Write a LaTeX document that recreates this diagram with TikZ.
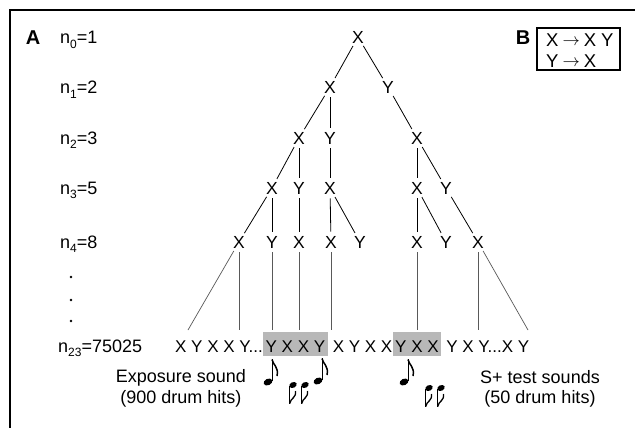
\documentclass[tikz,border=0pt]{standalone}
\usepackage{fontspec}
\setmainfont{Liberation Sans}
\definecolor{hlgray}{RGB}{184,184,184}
\newcommand\nsub[1]{\raisebox{-4.5pt}{\fontsize{12}{12}\selectfont #1}}
\newcommand\rarr{\raisebox{0.5pt}{$\rightarrow$}}
\begin{document}
\begin{tikzpicture}[x=1pt,y=-1pt,
  lt/.style={circle, inner sep=1.3pt, font=\fontsize{17.5}{20}\selectfont},
  ln/.style={line width=0.8pt},
  ln2/.style={line width=0.7pt, black!65},
  lab/.style={anchor=base west, inner sep=0pt, font=\fontsize{18}{21}\selectfont},
  txt/.style={anchor=base, inner sep=0pt, font=\fontsize{18}{21}\selectfont},
  rul/.style={anchor=base west, inner sep=0pt, font=\fontsize{18.5}{21}\selectfont},
  seq/.style={anchor=base west, inner sep=0pt, text height=20pt, text depth=4pt, font=\fontsize{17}{20}\selectfont},
  hl/.style={seq, fill=hlgray, inner xsep=2.5pt},
  upnote/.pic={
    \fill[rotate=25] (0,0) ellipse (4.6 and 3.2);
    \draw[line width=1pt] (4,-1) -- (4,-23);
    \draw[line width=1.5pt] (4,-22.5) .. controls (5,-17) and (11,-15) .. (9,-6);
  },
  downnote/.pic={
    \fill[rotate=25] (0,0) ellipse (3.9 and 2.8);
    \draw[line width=1pt] (-3.3,0.5) -- (-3.3,19);
    \draw[line width=1.3pt] (-3.3,18.5) .. controls (-2.5,13) and (3.5,13) .. (2.5,6);
  }
]
\useasboundingbox (0,0) rectangle (635,428);
\fill[white] (0,0) rectangle (635,428);
% frame
\draw[line width=2.2pt] (10,428) -- (10,10) -- (635,10);

% panel letters
\node[anchor=base, inner sep=0pt, font=\bfseries\fontsize{20}{24}\selectfont] (A) at (33,45) {A};
\node[anchor=base, inner sep=0pt, font=\bfseries\fontsize{20}{24}\selectfont] (B) at (523,45) {B};

% rules box
\draw[line width=2pt] (537,28) rectangle (620,70);
\node[rul] (rule1) at (546,46.5) {X\hspace{4pt}\rarr\hspace{4pt}X\hspace{5pt}Y};
\node[rul] (rule2) at (546,67) {Y\hspace{4pt}\rarr\hspace{4pt}X};

% row labels
\node[lab] (l0) at (60,44) {n\nsub{0}=1};
\node[lab] (l1) at (60,94) {n\nsub{1}=2};
\node[lab] (l2) at (60,144) {n\nsub{2}=3};
\node[lab] (l3) at (60,194) {n\nsub{3}=5};
\node[lab] (l4) at (60,248) {n\nsub{4}=8};
\node[lab] (l23) at (58,352) {n\nsub{23}=75025};
\fill (71,277) circle (1.3);
\fill (71,300) circle (1.3);
\fill (71,321) circle (1.3);

% tree nodes
\node[lt] (r0) at (358,37) {X};
\node[lt] (a1) at (330,87) {X};
\node[lt] (b1) at (388,87) {Y};
\node[lt] (a2) at (299,138) {X};
\node[lt] (b2) at (330,138) {Y};
\node[lt] (c2) at (417,138) {X};
\node[lt] (a3) at (272,188) {X};
\node[lt] (b3) at (299,188) {Y};
\node[lt] (c3) at (330,188) {X};
\node[lt] (d3) at (417,188) {X};
\node[lt] (e3) at (446,188) {Y};
\node[lt] (a4) at (239,242) {X};
\node[lt] (b4) at (272,242) {Y};
\node[lt] (c4) at (299,242) {X};
\node[lt] (d4) at (331,242) {X};
\node[lt] (e4) at (360,242) {Y};
\node[lt] (f4) at (417,242) {X};
\node[lt] (g4) at (446,242) {Y};
\node[lt] (h4) at (478,242) {X};

\draw[ln] (r0) -- (a1);
\draw[ln] (r0) -- (b1);
\draw[ln] (a1) -- (a2);
\draw[ln] (a1) -- (b2);
\draw[ln] (b1) -- (c2);
\draw[ln] (a2) -- (a3);
\draw[ln] (a2) -- (b3);
\draw[ln] (b2) -- (c3);
\draw[ln] (c2) -- (d3);
\draw[ln] (c2) -- (e3);
\draw[ln] (a3) -- (a4);
\draw[ln] (a3) -- (b4);
\draw[ln] (b3) -- (c4);
\draw[ln] (c3) -- (d4);
\draw[ln] (c3) -- (e4);
\draw[ln] (d3) -- (f4);
\draw[ln] (d3) -- (g4);
\draw[ln] (e3) -- (h4);

% ends above the sequence
\coordinate (t1) at (188,330);
\coordinate (t2) at (239,330);
\coordinate (t3) at (272,330);
\coordinate (t4) at (299,330);
\coordinate (t5) at (331,330);
\coordinate (t6) at (417,330);
\coordinate (t7) at (478,330);
\coordinate (t8) at (528,330);
\draw[ln2] (a4) -- (t1);
\draw[ln2] (a4) -- (t2);
\draw[ln2] (b4) -- (t3);
\draw[ln2] (c4) -- (t4);
\draw[ln2] (d4) -- (t5);
\draw[ln2] (f4) -- (t6);
\draw[ln2] (h4) -- (t7);
\draw[ln2] (h4) -- (t8);

% sequence
\node[seq] (s1) at (175,352) {X Y X X Y...};
\node[hl, anchor=base west] (s2) at (s1.base east) {Y X X Y};
\node[seq] (s3) at (s2.base east) {\ X Y X X\ };
\node[hl, anchor=base west] (s4) at (s3.base east) {Y X X};
\node[seq] (s5) at (s4.base east) {\ Y X Y...X Y};

% captions
\node[txt] (exp1) at (181,382) {Exposure sound};
\node[txt] (exp2) at (181,403) {(900 drum hits)};
\node[txt] (sp1) at (540,383) {S+ test sounds};
\node[txt] (sp2) at (540,403) {(50 drum hits)};

% notes
\pic at (268,382) {upnote};
\pic at (293,385) {downnote};
\pic at (305,385) {downnote};
\pic at (318,381) {upnote};
\pic at (404,382) {upnote};
\pic at (429,388) {downnote};
\pic at (441,388) {downnote};
\end{tikzpicture}
\end{document}
